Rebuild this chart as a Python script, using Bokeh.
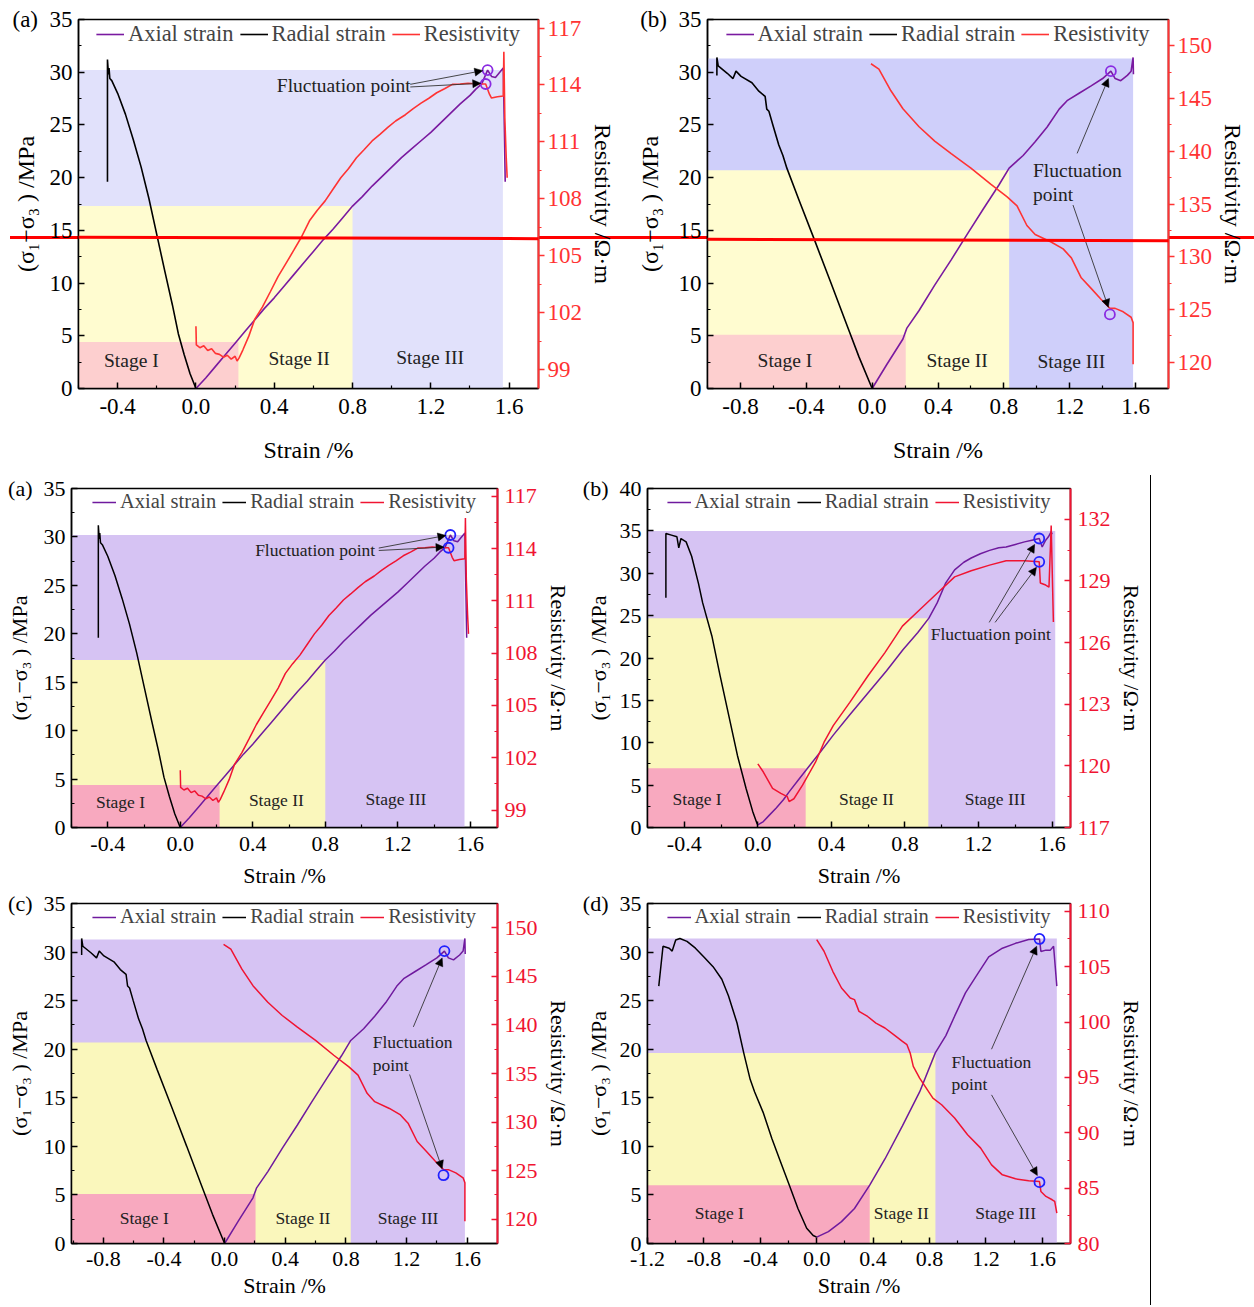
from bokeh.plotting import figure
from bokeh.models import (Range1d, LinearAxis, FixedTicker, PrintfTickFormatter,
                          Legend, LegendItem, Label, Arrow, NormalHead, Div, PolyAnnotation)
from bokeh.layouts import row, column
from bokeh.embed import file_html
from bokeh.resources import INLINE

FONT = "Liberation Serif"

# ---------------- data: sample A (panels top-(a) and lower-(a)) ----------------
A_AX_X = [0.00, 0.05, 0.10, 0.15, 0.20, 0.25, 0.30, 0.35, 0.40, 0.45, 0.50, 0.55, 0.60, 0.65, 0.70, 0.75,
          0.80, 0.85, 0.90, 0.95, 1.00, 1.05, 1.10, 1.15, 1.20, 1.25, 1.30, 1.35, 1.40, 1.43, 1.46, 1.49,
          1.51, 1.53, 1.57, 1.575, 1.58]
A_AX_Y = [0.0, 1.0, 2.1, 3.2, 4.3, 5.4, 6.5, 7.6, 8.6, 9.7, 10.8, 11.9, 13.0, 14.1, 15.1, 16.2,
          17.3, 18.2, 19.2, 20.1, 21.0, 21.9, 22.7, 23.5, 24.3, 25.2, 26.1, 27.0, 27.8, 28.4, 28.9, 30.2,
          29.6, 29.5, 30.4, 25.0, 19.6]
A_RA_X = [-0.452, -0.452, -0.447, -0.444, -0.440, -0.430, -0.400, -0.360, -0.320, -0.280, -0.240,
          -0.200, -0.160, -0.120, -0.090, -0.060, -0.030, 0.000]
A_RA_Y = [19.6, 31.2, 29.8, 30.4, 29.4, 29.2, 28.0, 26.0, 23.6, 21.0, 18.0, 14.6, 11.2, 7.9, 5.2, 3.2, 1.4, 0.0]
A_RE_X = [0.000, 0.002, 0.02, 0.04, 0.06, 0.08, 0.10, 0.12, 0.14, 0.16, 0.18, 0.20, 0.21, 0.22, 0.24, 0.27,
          0.30, 0.34, 0.38, 0.42, 0.46, 0.50, 0.54, 0.58, 0.62, 0.66, 0.70, 0.74, 0.78, 0.82, 0.86, 0.90,
          0.94, 0.98, 1.02, 1.07, 1.11, 1.15, 1.19, 1.23, 1.27, 1.31, 1.35, 1.39, 1.44, 1.48, 1.50, 1.51,
          1.54, 1.57, 1.573, 1.578, 1.585, 1.59]
A_RE_Y = [101.28, 100.30, 100.15, 100.25, 100.00, 100.10, 99.85, 99.80, 99.65, 99.75, 99.55, 99.70, 99.45,
          99.60, 100.04, 100.76, 101.64, 102.30, 103.10, 103.91, 104.60, 105.29, 106.00, 106.84, 107.40,
          107.89, 108.50, 109.11, 109.60, 110.16, 110.60, 111.05, 111.40, 111.76, 112.10, 112.43, 112.75,
          113.04, 113.30, 113.59, 113.80, 114.03, 114.05, 114.09, 114.05, 114.05, 113.50, 113.31, 113.38,
          113.42, 115.75, 112.26, 110.20, 109.11]
A_FLUCT = [1.49, 30.2, 1.48, 114.05]          # axial (x, MPa), resistivity (x, ohm.m)
A_STAGE_X = [0.217, 0.80, 1.568]              # right edge of stage I, II, III
A_STAGE_Y = [4.4, 17.3, 30.2]                 # stress at end of stage I, II, III

# ---------------- data: sample B (lower-(b)) ----------------
B_AX_X = [0.000, 0.03, 0.06, 0.10, 0.14, 0.17, 0.22, 0.27, 0.34, 0.41, 0.50, 0.60, 0.70, 0.79, 0.87, 0.93,
          0.975, 1.02, 1.07, 1.12, 1.16, 1.21, 1.26, 1.31, 1.35, 1.40, 1.45, 1.49, 1.53, 1.546, 1.565,
          1.58, 1.595, 1.60]
B_AX_Y = [0.3, 0.7, 1.4, 2.3, 3.3, 4.2, 5.6, 7.0, 8.9, 10.9, 13.3, 15.9, 18.5, 21.0, 23.0, 24.7,
          26.5, 28.8, 30.4, 31.3, 31.8, 32.3, 32.7, 33.0, 33.1, 33.4, 33.7, 33.9, 34.1, 33.1, 33.9,
          34.3, 34.9, 34.6]
B_RA_X = [-0.500, -0.500, -0.470, -0.440, -0.430, -0.418, -0.390, -0.360, -0.323, -0.300, -0.250,
          -0.205, -0.158, -0.111, -0.064, -0.028, -0.005, 0.000]
B_RA_Y = [27.1, 34.7, 34.5, 34.3, 33.0, 34.1, 33.7, 32.0, 28.8, 26.5, 22.6, 17.9, 13.2, 8.5, 4.6, 1.9, 0.5, 0.3]
B_RE_X = [0.000, 0.03, 0.08, 0.125, 0.16, 0.17, 0.196, 0.243, 0.314, 0.36, 0.41, 0.50, 0.60, 0.69,
          0.786, 0.88, 0.975, 1.07, 1.16, 1.26, 1.35, 1.45, 1.53, 1.536, 1.565, 1.583, 1.595, 1.607]
B_RE_Y = [120.1, 119.7, 118.9, 118.66, 118.5, 118.26, 118.4, 119.06, 120.19, 121.15, 121.96, 123.09,
          124.4, 125.5, 126.8, 127.6, 128.4, 129.2, 129.5, 129.77, 129.98, 129.98, 129.93, 128.9,
          128.8, 128.7, 131.7, 127.0]
B_FLUCT = [1.53, 34.1, 1.53, 129.93]
B_STAGE_X = [0.26, 0.927, 1.617]
B_STAGE_Y = [7.0, 24.7, 35.0]

# ---------------- data: sample C (panels top-(b) and lower-(c)) ----------------
C_AX_X = [0.000, 0.09, 0.187, 0.21, 0.285, 0.38, 0.48, 0.576, 0.674, 0.77, 0.832, 0.917, 0.99, 1.063,
          1.136, 1.184, 1.257, 1.33, 1.40, 1.45, 1.476, 1.51, 1.55, 1.573, 1.585, 1.587]
C_AX_Y = [0.0, 2.3, 4.7, 5.7, 7.4, 9.8, 12.2, 14.6, 17.0, 19.3, 20.9, 22.1, 23.4, 24.8, 26.5, 27.3,
          28.0, 28.7, 29.4, 30.1, 29.4, 29.2, 29.7, 30.1, 31.4, 29.8]
C_RA_X = [-0.943, -0.943, -0.935, -0.880, -0.845, -0.827, -0.796, -0.730, -0.688, -0.650, -0.640,
          -0.627, -0.603, -0.567, -0.542, -0.518, -0.445, -0.348, -0.250, -0.153, -0.080, 0.000]
C_RA_Y = [29.7, 31.4, 30.6, 29.9, 29.4, 30.1, 29.6, 29.0, 28.2, 27.7, 26.5, 26.3, 25.0, 23.1, 22.1,
          20.9, 17.9, 14.0, 10.0, 6.0, 3.0, 0.0]
C_RE_X = [-0.007, 0.041, 0.114, 0.187, 0.285, 0.38, 0.48, 0.60, 0.72, 0.82, 0.88, 0.94, 0.99, 1.087,
          1.16, 1.21, 1.27, 1.33, 1.39, 1.444, 1.476, 1.525, 1.573, 1.585, 1.585]
C_RE_Y = [148.3, 147.8, 145.74, 144.04, 142.33, 140.97, 139.78, 138.41, 136.88, 135.68, 134.83, 132.96,
          132.1, 131.4, 130.74, 129.89, 128.0, 127.0, 125.97, 125.11, 125.1, 124.77, 124.26, 123.75, 119.8]
C_FLUCT = [1.45, 30.1, 1.444, 124.53]
C_STAGE_X = [0.204, 0.832, 1.585]
C_STAGE_Y = [5.1, 20.7, 31.3]

# ---------------- data: sample D (lower-(d)) ----------------
D_AX_X = [0.000, 0.083, 0.176, 0.268, 0.376, 0.484, 0.608, 0.73, 0.842, 0.916, 0.978, 1.055, 1.13,
          1.22, 1.317, 1.41, 1.503, 1.58, 1.59, 1.626, 1.657, 1.68, 1.703]
D_AX_Y = [0.65, 1.23, 2.25, 3.6, 6.0, 8.7, 12.1, 15.6, 19.65, 21.4, 23.4, 25.8, 27.5, 29.5, 30.4,
          30.9, 31.3, 31.35, 30.06, 30.2, 30.2, 30.6, 26.5]
D_RA_X = [-1.120, -1.090, -1.046, -1.025, -1.000, -0.970, -0.920, -0.860, -0.800, -0.735, -0.673,
          -0.626, -0.565, -0.518, -0.472, -0.440, -0.380, -0.318, -0.256, -0.194, -0.133, -0.071,
          -0.025, 0.000]
D_RA_Y = [26.5, 30.6, 30.4, 30.1, 31.25, 31.4, 31.1, 30.4, 29.5, 28.5, 27.2, 25.5, 22.7, 19.65, 16.9,
          15.6, 13.5, 10.8, 8.4, 6.0, 3.6, 1.57, 0.82, 0.65]
D_RE_X = [0.000, 0.052, 0.114, 0.176, 0.238, 0.268, 0.300, 0.361, 0.420, 0.484, 0.546, 0.608, 0.640,
          0.663, 0.685, 0.730, 0.824, 0.886, 0.978, 1.070, 1.163, 1.240, 1.317, 1.410, 1.503, 1.580,
          1.590, 1.626, 1.670, 1.688, 1.703]
D_RE_Y = [107.44, 106.39, 104.58, 103.07, 102.17, 102.02, 100.96, 100.50, 99.90, 99.46, 98.86, 98.25,
          97.95, 97.20, 95.99, 94.94, 93.13, 92.53, 91.33, 89.82, 88.61, 87.10, 86.20, 85.84, 85.66,
          85.60, 84.70, 84.25, 83.95, 83.80, 82.74]
D_FLUCT = [1.58, 31.35, 1.58, 85.54]
D_STAGE_X = [0.376, 0.842, 1.703]
D_STAGE_Y = [6.0, 19.6, 31.4]

STAGE_NAMES = ["Stage I", "Stage II", "Stage III"]
SERIES_NAMES = ["Axial strain", "Radial strain", "Resistivity"]
X_TITLE = "Strain /%"
Y_TITLE = "(σ₁−σ₃ ) /MPa"
R_TITLE = "Resistivity /Ω·m"
NB = "\u00a0\u00a0"

def ds(ax, ay, rx, ry, ex, ey, fl, sx, sy):
    return dict(ax=ax, ay=ay, rx=rx, ry=ry, ex=ex, ey=ey, fl=fl, sx=sx, sy=sy)

DS_A = ds(A_AX_X, A_AX_Y, A_RA_X, A_RA_Y, A_RE_X, A_RE_Y, A_FLUCT, A_STAGE_X, A_STAGE_Y)
DS_B = ds(B_AX_X, B_AX_Y, B_RA_X, B_RA_Y, B_RE_X, B_RE_Y, B_FLUCT, B_STAGE_X, B_STAGE_Y)
DS_C = ds(C_AX_X, C_AX_Y, C_RA_X, C_RA_Y, C_RE_X, C_RE_Y, C_FLUCT, C_STAGE_X, C_STAGE_Y)
DS_D = ds(D_AX_X, D_AX_Y, D_RA_X, D_RA_Y, D_RE_X, D_RE_Y, D_FLUCT, D_STAGE_X, D_STAGE_Y)

# ---------------- styles ----------------
TOP = dict(tick=23, title=24, legend=22.5, stage=19.5, note=19.5, red="#ff3333", purple="#7a1aa0",
           circle="#8a2be2", pink="#fdcfcf", yellow="#fffcd0", blue="#e1e1fb", lw=1.6, gw=28,
           rtin=0, rtout=6, rstand=3, xstand=10, xtstand=20)
LOW = dict(tick=22, title=22, legend=20.5, stage=17.5, note=17.5, red="#f01432", purple="#6f1a9e",
           circle="#2222ff", pink="#f8a9bf", yellow="#faf7bc", blue="#d6c3f3", lw=1.5, gw=24,
           rtin=6, rtout=0, rstand=7, xstand=9, xtstand=9)

def ticks(a, b, step):
    out, v = [], a
    while v <= b + 1e-9:
        out.append(round(v, 3))
        v += step
    return out

X_A = dict(xr=(-0.6, 1.75), xt=ticks(-0.4, 1.6, 0.4), xm=ticks(-0.6, 1.4, 0.4))
X_C = dict(xr=(-1.01, 1.8), xt=ticks(-0.8, 1.6, 0.4), xm=ticks(-1.0, 1.4, 0.4))

def style_axis(a, st, color="black", tin=6, tout=0, lstand=6, tstand=4):
    a.axis_line_color = color
    a.axis_line_width = 1.5
    a.major_tick_line_color = color
    a.minor_tick_line_color = color
    a.major_tick_line_width = 1.5
    a.minor_tick_line_width = 1.2
    a.major_tick_in = tin
    a.major_tick_out = tout
    a.minor_tick_in = 3 if tin else 0
    a.minor_tick_out = 3 if tout else 0
    a.major_label_text_font = FONT
    a.major_label_text_font_size = f"{st['tick']}px"
    a.major_label_text_color = color
    a.axis_label_text_font = FONT
    a.axis_label_text_font_size = f"{st['title']}px"
    a.axis_label_text_font_style = "normal"
    a.axis_label_text_color = "black"
    a.major_label_standoff = lstand
    a.axis_label_standoff = tstand

def panel(cfg, d, st, transparent=False):
    p = figure(width=cfg["w"], height=cfg["h"], x_range=Range1d(*cfg["xr"]), y_range=Range1d(*cfg["yr"]),
               output_backend="svg", toolbar_location=None,
               min_border_left=cfg["b"][0], min_border_right=cfg["b"][1],
               min_border_top=cfg["b"][2], min_border_bottom=cfg["b"][3],
               background_fill_color="white", border_fill_color="white")
    if transparent:
        p.border_fill_alpha = 0
    p.extra_y_ranges = {"res": Range1d(*cfg["rr"])}
    p.xgrid.visible = False
    p.ygrid.visible = False
    p.outline_line_color = "black"
    p.outline_line_width = 1.5
    p.outline_line_alpha = 1.0

    x0 = cfg["xr"][0]
    blue = cfg.get("blue", st["blue"])
    p.quad(left=[x0, x0, x0], right=d["sx"][::-1], bottom=[0, 0, 0], top=d["sy"][::-1],
           fill_color=[blue, st["yellow"], st["pink"]], line_color=None)
    for i, name in enumerate(STAGE_NAMES):
        sxp, syp = cfg["stage_pos"][i]
        p.add_layout(Label(x=sxp, y=syp, text=name, text_font=FONT, text_font_size=f"{st['stage']}px",
                           text_align="center", text_baseline="middle", text_color="#222222"))

    r_ra = p.line(d["rx"], d["ry"], line_color="black", line_width=st["lw"])
    r_ax = p.line(d["ax"], d["ay"], line_color=st["purple"], line_width=st["lw"])
    r_re = p.line(d["ex"], d["ey"], line_color=st["red"], line_width=st["lw"], y_range_name="res")
    fl = d["fl"]
    p.scatter([fl[0]], [fl[1]], marker="circle", size=10, fill_alpha=0, line_color=st["circle"], line_width=1.8)
    p.scatter([fl[2]], [fl[3]], marker="circle", size=10, fill_alpha=0, line_color=st["circle"], line_width=1.8,
              y_range_name="res")

    for (nx, ny, txt) in cfg["notes"]:
        p.add_layout(Label(x=nx, y=ny, text=txt, text_font=FONT, text_font_size=f"{st['note']}px",
                           text_align="left", text_baseline="middle", text_color="#222222"))
    for (xs, ys, xe, ye) in cfg["arrows"]:
        p.add_layout(Arrow(end=NormalHead(size=8, fill_color="black", line_color="black", line_width=0.5),
                           x_start=xs, y_start=ys, x_end=xe, y_end=ye, line_color="#333333", line_width=0.9))

    xa = p.xaxis[0]
    xa.ticker = FixedTicker(ticks=cfg["xt"], minor_ticks=cfg["xm"])
    xa.formatter = PrintfTickFormatter(format="%.1f")
    xa.axis_label = X_TITLE
    style_axis(xa, st, lstand=cfg.get("xstand", st["xstand"]), tstand=cfg.get("xtstand", st["xtstand"]))

    ytop = cfg["yr"][1]
    ya = p.yaxis[0]
    ya.ticker = FixedTicker(ticks=ticks(0, ytop, 5), minor_ticks=ticks(2.5, ytop, 5))
    ya.formatter = PrintfTickFormatter(format="%d")
    ya.major_label_overrides = {ytop: cfg["tag"] + NB + str(ytop)}
    ya.axis_label = Y_TITLE
    style_axis(ya, st, lstand=6, tstand=cfg["ystand"])

    ra = LinearAxis(y_range_name="res", axis_label=R_TITLE,
                    ticker=FixedTicker(ticks=cfg["rt"], minor_ticks=cfg["rm"]),
                    formatter=PrintfTickFormatter(format="%d"))
    style_axis(ra, st, color=st["red"], tin=st["rtin"], tout=st["rtout"], lstand=st["rstand"], tstand=5)
    ra.axis_line_width = 2
    p.add_layout(ra, "right")

    lg = Legend(items=[LegendItem(label=SERIES_NAMES[0], renderers=[r_ax]),
                       LegendItem(label=SERIES_NAMES[1], renderers=[r_ra]),
                       LegendItem(label=SERIES_NAMES[2], renderers=[r_re])],
                orientation="horizontal", location="top_center", border_line_alpha=0,
                background_fill_alpha=0, label_text_font=FONT, label_text_font_size=f"{st['legend']}px",
                glyph_width=st["gw"], glyph_height=20, spacing=6, label_standoff=4, padding=2, margin=0)
    p.add_layout(lg)

    if cfg.get("red_canvas"):
        cxs, cys = cfg["red_canvas"]
        try:
            ann = PolyAnnotation(xs=cxs, ys=cys, xs_units="canvas", ys_units="canvas",
                                 fill_alpha=0, line_color="#ff0000", line_alpha=1.0, line_width=3)
        except Exception:
            dxs, dys = cfg["red_data"]
            ann = PolyAnnotation(xs=dxs, ys=dys, fill_alpha=0, line_color="#ff0000", line_alpha=1.0,
                                 line_width=3)
        p.add_layout(ann)
    return p

NOTE_A = [(0.413, 28.7, "Fluctuation point")]
ARR_A = [(1.095, 28.85, 1.465, 30.15), (1.095, 28.6, 1.455, 28.95)]
NOTE_C = [(0.977, 20.7, "Fluctuation"), (0.977, 18.4, "point")]
ARR_C = [(1.245, 22.3, 1.435, 29.4), (1.22, 17.4, 1.435, 7.7)]

CFG_TA = dict(w=630, h=470, b=(78, 92, 19, 82), yr=(0, 35), rr=(98.0, 117.45), ystand=-30,
              rt=ticks(99, 117, 3), rm=ticks(100.5, 116, 3), tag="(a)",
              stage_pos=[(-0.33, 2.7), (0.527, 2.8), (1.196, 2.9)], notes=NOTE_A, arrows=ARR_A,
              red_canvas=([0, 630], [236.5, 238.5]), red_data=([-0.997, 2.219], [14.46, 14.22]), **X_A)
CFG_TB = dict(w=624, h=470, b=(77, 86, 18, 82), yr=(0, 35), rr=(117.5, 152.5), blue="#cfcffa", ystand=-26,
              rt=ticks(120, 150, 5), rm=ticks(122.5, 150, 5), tag="(b)",
              stage_pos=[(-0.53, 2.66), (0.516, 2.66), (1.21, 2.6)], notes=NOTE_C, arrows=ARR_C,
              red_canvas=([0, 624], [238.5, 240.5]), red_data=([-1.468, 2.322], [14.14, 13.91]),
              xr=(-1.0, 1.8), xt=X_C["xt"], xm=X_C["xm"])
CFG_LA = dict(w=578, h=420, b=(71, 81, 18, 60), yr=(0, 35), rr=(98.0, 117.45), ystand=-27,
              rt=ticks(99, 117, 3), rm=ticks(100.5, 116, 3), tag="(a)",
              stage_pos=[(-0.33, 2.65), (0.53, 2.8), (1.19, 2.9)], notes=NOTE_A, arrows=ARR_A, **X_A)
CFG_LB = dict(w=572, h=420, b=(69, 80, 18, 60), yr=(0, 40), rr=(117.0, 133.5), ystand=-31,
              rt=ticks(117, 132, 3), rm=ticks(118.5, 133, 3), tag="(b)",
              stage_pos=[(-0.33, 3.4), (0.59, 3.4), (1.29, 3.4)],
              notes=[(0.94, 22.8, "Fluctuation point")],
              arrows=[(1.258, 24.2, 1.505, 33.4), (1.29, 24.2, 1.515, 30.7)],
              xr=(-0.6, 1.70), xt=X_A["xt"], xm=X_A["xm"])
CFG_LC = dict(w=578, h=415, b=(71, 81, 13, 62), yr=(0, 35), rr=(117.5, 152.5), ystand=-27,
              rt=ticks(120, 150, 5), rm=ticks(122.5, 150, 5), tag="(c)",
              stage_pos=[(-0.53, 2.66), (0.516, 2.66), (1.21, 2.6)], notes=NOTE_C, arrows=ARR_C,
              xstand=8, xtstand=4, **X_C)
CFG_LD = dict(w=572, h=415, b=(69, 80, 13, 62), yr=(0, 35), rr=(80.0, 110.7), ystand=-31,
              rt=ticks(80, 110, 5), rm=ticks(82.5, 110, 5), tag="(d)",
              stage_pos=[(-0.69, 3.1), (0.60, 3.1), (1.34, 3.1)],
              notes=[(0.956, 18.7, "Fluctuation"), (0.956, 16.4, "point")],
              arrows=[(1.24, 20.0, 1.56, 30.6), (1.24, 15.3, 1.565, 7.0)],
              xstand=8, xtstand=4, xr=(-1.2, 1.8), xt=ticks(-1.2, 1.6, 0.4), xm=ticks(-1.0, 1.4, 0.4))

ta = panel(CFG_TA, DS_A, TOP, transparent=True)
tb = panel(CFG_TB, DS_C, TOP, transparent=True)
la = panel(CFG_LA, DS_A, LOW)
lb = panel(CFG_LB, DS_B, LOW)
lc = panel(CFG_LC, DS_C, LOW)
ld = panel(CFG_LD, DS_D, LOW)

# red stroke that crosses the whole upper row (drawn behind the transparent borders)
RED_STROKE_CSS = ("linear-gradient(to bottom, rgba(255,255,255,0) 236px, #ff0000 236px, "
                  "#ff0000 239px, rgba(255,255,255,0) 239px)")
top_row = row(ta, tb, styles={"background-image": RED_STROKE_CSS, "background-repeat": "no-repeat",
                              "background-position": "10px 0px"})

vline = Div(text="", width=1, height=830, styles={"background-color": "black"}, margin=(5, 0, 0, 0))

layout = column(top_row, row(column(la, lc), column(lb, ld), vline))

open("out.html", "w").write(file_html(layout, INLINE))
